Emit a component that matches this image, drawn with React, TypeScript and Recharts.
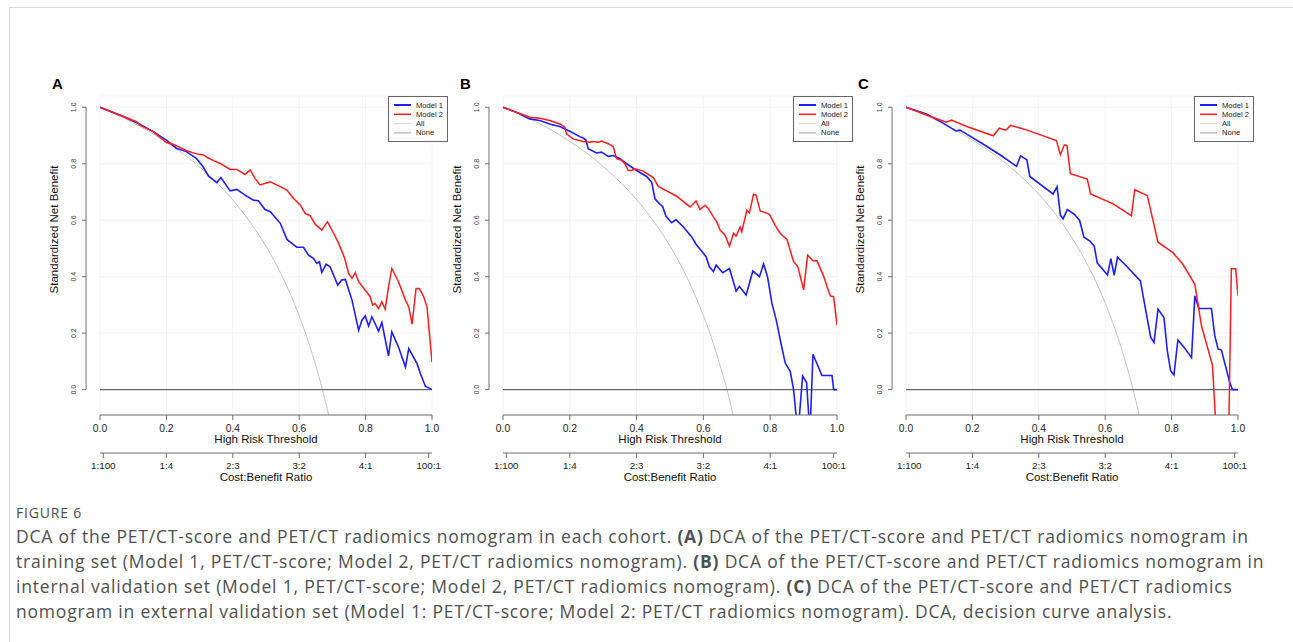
import React from "react";
import { CartesianGrid, Label, Legend, Line, LineChart, ReferenceLine, XAxis, YAxis } from "recharts";

type Pt = [number, number];

const thresholdTicks = [0, 0.2, 0.4, 0.6, 0.8, 1.0];
const costBenefitTicks = [0.0099, 0.2, 0.4, 0.6, 0.8, 0.99];
const costBenefitLabels = ["1:100", "1:4", "2:3", "3:2", "4:1", "100:1"];
const netBenefitTicks = [0, 0.2, 0.4, 0.6, 0.8, 1.0];
const legendNames = ["Model 1", "Model 2", "All", "None"];
const noneLine: Pt[] = [[0, 0], [1, 0]];

// panel A, training set
const aModel1: Pt[] = [
  [0, 1.0], [0.07, 0.967], [0.12, 0.94], [0.16, 0.914], [0.2, 0.884], [0.23, 0.855], [0.26, 0.843],
  [0.29, 0.819], [0.31, 0.79], [0.327, 0.756], [0.352, 0.733], [0.364, 0.751], [0.392, 0.704],
  [0.412, 0.709], [0.437, 0.689], [0.462, 0.671], [0.477, 0.669], [0.497, 0.638], [0.513, 0.63],
  [0.543, 0.589], [0.563, 0.532], [0.593, 0.504], [0.613, 0.504], [0.628, 0.476], [0.643, 0.465],
  [0.653, 0.447], [0.661, 0.453], [0.668, 0.415], [0.681, 0.444], [0.693, 0.435], [0.716, 0.37],
  [0.728, 0.388], [0.739, 0.39], [0.759, 0.317], [0.779, 0.21], [0.789, 0.246], [0.799, 0.261],
  [0.809, 0.225], [0.819, 0.258], [0.839, 0.207], [0.849, 0.238], [0.869, 0.119], [0.879, 0.204],
  [0.899, 0.151], [0.92, 0.08], [0.93, 0.145], [0.955, 0.092], [0.965, 0.057], [0.98, 0.012], [1.0, 0]
];
const aModel2: Pt[] = [
  [0, 1.0], [0.11, 0.949], [0.12, 0.937], [0.16, 0.914], [0.2, 0.875], [0.22, 0.869], [0.241, 0.858],
  [0.261, 0.846], [0.291, 0.835], [0.312, 0.831], [0.322, 0.823], [0.342, 0.811], [0.362, 0.801],
  [0.392, 0.78], [0.412, 0.78], [0.437, 0.762], [0.452, 0.778], [0.467, 0.748], [0.482, 0.725],
  [0.513, 0.736], [0.543, 0.719], [0.563, 0.707], [0.583, 0.677], [0.603, 0.654], [0.618, 0.624],
  [0.633, 0.616], [0.648, 0.586], [0.668, 0.565], [0.685, 0.595], [0.704, 0.553], [0.719, 0.518],
  [0.737, 0.465], [0.749, 0.411], [0.759, 0.394], [0.769, 0.414], [0.779, 0.382], [0.814, 0.329],
  [0.821, 0.299], [0.829, 0.305], [0.839, 0.287], [0.849, 0.311], [0.859, 0.284], [0.869, 0.364],
  [0.879, 0.429], [0.899, 0.382], [0.92, 0.317], [0.93, 0.293], [0.94, 0.232], [0.952, 0.358],
  [0.962, 0.358], [0.975, 0.329], [0.985, 0.293], [1.0, 0.098]
];
const aAll: Pt[] = [
  [0, 1.0], [0.05, 0.974], [0.1, 0.945], [0.15, 0.913], [0.2, 0.877], [0.25, 0.836], [0.3, 0.789],
  [0.35, 0.735], [0.4, 0.672], [0.45, 0.597], [0.5, 0.508], [0.525, 0.456], [0.55, 0.398],
  [0.575, 0.334], [0.6, 0.261], [0.61, 0.23], [0.63, 0.161], [0.64, 0.124], [0.65, 0.085],
  [0.66, 0.044], [0.67, 0.0], [0.68, -0.047], [0.69, -0.096], [0.7, -0.149]
];

// panel B, internal validation set
const bModel1: Pt[] = [
  [0, 1.0], [0.04, 0.982], [0.08, 0.959], [0.11, 0.953], [0.14, 0.941], [0.17, 0.932], [0.2, 0.915],
  [0.23, 0.896], [0.24, 0.891], [0.248, 0.885], [0.255, 0.853], [0.28, 0.838], [0.295, 0.841],
  [0.315, 0.826], [0.33, 0.829], [0.35, 0.818], [0.37, 0.8], [0.4, 0.776], [0.43, 0.755],
  [0.445, 0.735], [0.455, 0.676], [0.468, 0.659], [0.478, 0.649], [0.488, 0.614], [0.505, 0.591],
  [0.518, 0.602], [0.54, 0.576], [0.565, 0.541], [0.578, 0.515], [0.608, 0.471], [0.618, 0.435],
  [0.63, 0.418], [0.638, 0.441], [0.658, 0.414], [0.678, 0.429], [0.698, 0.349], [0.708, 0.365],
  [0.728, 0.335], [0.748, 0.42], [0.768, 0.4], [0.78, 0.445], [0.792, 0.4], [0.805, 0.306],
  [0.818, 0.247], [0.832, 0.165], [0.845, 0.094], [0.86, 0.065], [0.87, 0.0], [0.883, -0.16],
  [0.897, 0.048], [0.909, 0.025], [0.919, -0.16], [0.928, 0.125], [0.955, 0.05], [0.985, 0.05],
  [0.99, 0.0], [1.0, 0.0]
];
const bModel2: Pt[] = [
  [0, 1.0], [0.08, 0.965], [0.11, 0.961], [0.14, 0.953], [0.17, 0.941], [0.185, 0.93], [0.19, 0.906],
  [0.21, 0.888], [0.24, 0.879], [0.26, 0.876], [0.27, 0.879], [0.285, 0.876], [0.295, 0.88],
  [0.315, 0.871], [0.33, 0.861], [0.34, 0.818], [0.355, 0.812], [0.365, 0.8], [0.375, 0.776],
  [0.385, 0.776], [0.395, 0.782], [0.42, 0.774], [0.45, 0.751], [0.465, 0.72], [0.49, 0.704],
  [0.52, 0.685], [0.56, 0.647], [0.578, 0.668], [0.59, 0.638], [0.605, 0.653], [0.615, 0.641],
  [0.63, 0.612], [0.64, 0.594], [0.65, 0.565], [0.665, 0.547], [0.678, 0.508], [0.69, 0.553],
  [0.698, 0.544], [0.71, 0.576], [0.715, 0.559], [0.73, 0.635], [0.738, 0.626], [0.75, 0.692],
  [0.758, 0.688], [0.77, 0.633], [0.798, 0.621], [0.815, 0.582], [0.83, 0.553], [0.85, 0.532],
  [0.87, 0.453], [0.883, 0.435], [0.9, 0.353], [0.912, 0.476], [0.928, 0.456], [0.94, 0.456],
  [0.96, 0.402], [0.97, 0.365], [0.98, 0.332], [0.99, 0.329], [1.0, 0.229]
];
const bAll: Pt[] = [
  [0, 1.0], [0.05, 0.976], [0.1, 0.948], [0.15, 0.916], [0.2, 0.879], [0.25, 0.838], [0.3, 0.79],
  [0.35, 0.736], [0.4, 0.673], [0.45, 0.598], [0.5, 0.509], [0.525, 0.457], [0.55, 0.399],
  [0.575, 0.335], [0.6, 0.262], [0.61, 0.231], [0.63, 0.162], [0.64, 0.125], [0.65, 0.086],
  [0.66, 0.045], [0.671, 0.0], [0.68, -0.045], [0.69, -0.094], [0.7, -0.147]
];

// panel C, external validation set
const cModel1: Pt[] = [
  [0, 1.0], [0.062, 0.976], [0.112, 0.944], [0.15, 0.916], [0.162, 0.919], [0.173, 0.912],
  [0.233, 0.869], [0.283, 0.832], [0.333, 0.791], [0.345, 0.828], [0.364, 0.814], [0.373, 0.755],
  [0.443, 0.693], [0.455, 0.718], [0.465, 0.618], [0.473, 0.605], [0.486, 0.638], [0.508, 0.62],
  [0.523, 0.599], [0.536, 0.54], [0.554, 0.526], [0.567, 0.508], [0.576, 0.449], [0.607, 0.406],
  [0.617, 0.464], [0.627, 0.405], [0.637, 0.469], [0.664, 0.438], [0.706, 0.385], [0.737, 0.185],
  [0.747, 0.167], [0.759, 0.285], [0.777, 0.255], [0.787, 0.138], [0.797, 0.067], [0.807, 0.052],
  [0.819, 0.176], [0.84, 0.146], [0.86, 0.113], [0.87, 0.332], [0.882, 0.287], [0.92, 0.287],
  [0.93, 0.191], [0.94, 0.144], [0.95, 0.14], [0.975, 0.026], [0.983, 0.0], [1.0, 0.0]
];
const cModel2: Pt[] = [
  [0, 1.0], [0.082, 0.964], [0.122, 0.947], [0.137, 0.955], [0.183, 0.932], [0.263, 0.899],
  [0.281, 0.926], [0.301, 0.919], [0.315, 0.936], [0.363, 0.92], [0.453, 0.882], [0.465, 0.832],
  [0.477, 0.867], [0.485, 0.864], [0.495, 0.765], [0.546, 0.746], [0.556, 0.693], [0.624, 0.658],
  [0.679, 0.616], [0.689, 0.708], [0.727, 0.687], [0.759, 0.522], [0.804, 0.485], [0.834, 0.444],
  [0.87, 0.373], [0.89, 0.226], [0.923, 0.087], [0.935, -0.16], [0.972, -0.16], [0.98, 0.428],
  [0.993, 0.428], [1.0, 0.332]
];
const cAll: Pt[] = [
  [0, 1.0], [0.05, 0.976], [0.1, 0.949], [0.15, 0.918], [0.2, 0.884], [0.25, 0.846], [0.3, 0.802],
  [0.35, 0.751], [0.4, 0.692], [0.45, 0.622], [0.5, 0.538], [0.55, 0.435], [0.6, 0.307],
  [0.63, 0.213], [0.65, 0.142], [0.67, 0.062], [0.684, 0.0], [0.7, -0.078], [0.71, -0.131]
];

const BLUE = "#1e1eff";
const RED = "#ff1e1e";
const ALL_GREY = "#c4c4c4";
const NONE_GREY = "#6a6a6a";
const AXIS = "#6f6f6f";
const FONT = "'Liberation Sans', Arial, sans-serif";

const legendColors = [BLUE, RED, "#d6d6d6", "#a0a0a0"];
const legendWidths = [2, 1.5, 1, 1];

// threshold axis sits right under the plot, cost:benefit axis below it
const RISK_AXIS = "a";
const COST_AXIS = "b";

const rows = (pts: Pt[]) => pts.map(([x, y]) => ({ x, y }));

function LegendBox() {
  return (
    <svg width={60} height={47} style={{ display: "block" }}>
      <rect x={0.5} y={0.5} width={59} height={45} fill="#fff" stroke="#666" />
      {legendNames.map((name, i) => (
        <g key={name}>
          <line x1={6} x2={23} y1={9 + i * 9.3} y2={9 + i * 9.3} stroke={legendColors[i]} strokeWidth={legendWidths[i]} />
          <text x={28} y={9 + i * 9.3} dominantBaseline="central" fontSize={7.6} fill="#222" fontFamily={FONT}>
            {name}
          </text>
        </g>
      ))}
    </svg>
  );
}

function NetBenefitTick(props: any) {
  const { x, y, payload } = props;
  const tx = x - 26;
  return (
    <g>
      <line x1={x - 14} x2={x - 18} y1={y} y2={y} stroke={AXIS} />
      <text
        x={tx}
        y={y}
        transform={`rotate(-90 ${tx} ${y})`}
        textAnchor="middle"
        dominantBaseline="central"
        fontSize={7}
        fill="#333"
        fontFamily={FONT}
      >
        {Number(payload.value).toFixed(1)}
      </text>
    </g>
  );
}

function AxisTitle(props: any) {
  const { viewBox, value } = props;
  return (
    <text
      x={viewBox.x + viewBox.width / 2}
      y={viewBox.y + 24}
      textAnchor="middle"
      dominantBaseline="central"
      fontSize={11.5}
      fill="#111"
      fontFamily={FONT}
    >
      {value}
    </text>
  );
}

function YTitle(props: any) {
  const { viewBox } = props;
  const cx = viewBox.x + viewBox.width - 46;
  const cy = viewBox.y + viewBox.height / 2 - 26;
  return (
    <text
      x={cx}
      y={cy}
      transform={`rotate(-90 ${cx} ${cy})`}
      textAnchor="middle"
      dominantBaseline="central"
      fontSize={11.5}
      fill="#111"
      fontFamily={FONT}
    >
      Standardized Net Benefit
    </text>
  );
}

function DcaPanel({
  left,
  width,
  model1,
  model2,
  all
}: {
  left: number;
  width: number;
  model1: Pt[];
  model2: Pt[];
  all: Pt[];
}) {
  return (
    <div style={{ position: "absolute", left, top: 60 }}>
      <LineChart width={width} height={430} margin={{ top: 36, right: 28, left: 0, bottom: 3 }}>
        <CartesianGrid xAxisId={RISK_AXIS} stroke="#f3f3f3" />
        <XAxis
          xAxisId={RISK_AXIS}
          type="number"
          dataKey="x"
          domain={[0, 1]}
          ticks={thresholdTicks}
          allowDataOverflow
          height={38}
          stroke={AXIS}
          tickSize={5}
          tickMargin={5}
          interval={0}
          tickFormatter={(v: number) => v.toFixed(1)}
          tick={{ fontSize: 10.3, fill: "#222", fontFamily: FONT }}
        >
          <Label value="High Risk Threshold" content={<AxisTitle value="High Risk Threshold" />} />
        </XAxis>
        <XAxis
          xAxisId={COST_AXIS}
          type="number"
          dataKey="x"
          domain={[0, 1]}
          ticks={costBenefitTicks}
          allowDataOverflow
          height={34}
          stroke={AXIS}
          tickSize={5}
          tickMargin={4}
          interval={0}
          tickFormatter={(v: number) => costBenefitLabels[costBenefitTicks.indexOf(v)]}
          tick={{ fontSize: 9.8, fill: "#222", fontFamily: FONT }}
        >
          <Label value="Cost:Benefit Ratio" content={<AxisTitle value="Cost:Benefit Ratio" />} />
        </XAxis>
        <YAxis
          type="number"
          domain={[-0.09, 1.04]}
          ticks={netBenefitTicks}
          allowDataOverflow
          width={60}
          axisLine={false}
          tickLine={false}
          tickSize={0}
          tickMargin={0}
          interval={0}
          tick={(p: any) => <NetBenefitTick {...p} />}
        >
          <Label content={<YTitle />} />
        </YAxis>
        <ReferenceLine
          xAxisId={RISK_AXIS}
          segment={[{ x: -0.042, y: 0 }, { x: -0.042, y: 1 }]}
          stroke={AXIS}
          ifOverflow="visible"
        />
        <Legend
          layout="vertical"
          align="center"
          verticalAlign="middle"
          wrapperStyle={{ left: width - 28 + 16 - 60, top: 36, width: 60, height: 47 }}
          content={() => <LegendBox />}
        />
        <Line xAxisId={RISK_AXIS} data={rows(all)} dataKey="y" name="All" type="monotone" stroke={ALL_GREY} strokeWidth={1} dot={false} isAnimationActive={false} />
        <Line xAxisId={RISK_AXIS} data={rows(noneLine)} dataKey="y" name="None" type="linear" stroke={NONE_GREY} strokeWidth={1.3} dot={false} isAnimationActive={false} />
        <Line xAxisId={RISK_AXIS} data={rows(model1)} dataKey="y" name="Model 1" type="linear" stroke={BLUE} strokeWidth={1.6} dot={false} isAnimationActive={false} />
        <Line xAxisId={RISK_AXIS} data={rows(model2)} dataKey="y" name="Model 2" type="linear" stroke={RED} strokeWidth={1.5} dot={false} isAnimationActive={false} />
      </LineChart>
    </div>
  );
}

const letterStyle: React.CSSProperties = {
  position: "absolute",
  top: 76,
  fontFamily: FONT,
  fontWeight: 700,
  fontSize: 15,
  lineHeight: "15px",
  color: "#000"
};

const captionLine: React.CSSProperties = {
  whiteSpace: "nowrap",
  height: 25,
  lineHeight: "25px"
};

export default function App() {
  return (
    <div style={{ position: "absolute", left: 0, top: 0, width: 1293, height: 642, background: "#fff", overflow: "hidden" }}>
      <div style={{ position: "absolute", left: 9, top: 7, right: 0, bottom: 0, borderTop: "1px solid #d9d9d9", borderLeft: "1px solid #d9d9d9" }} />
      <DcaPanel left={40} width={420} model1={aModel1} model2={aModel2} all={aAll} />
      <DcaPanel left={443} width={422} model1={bModel1} model2={bModel2} all={bAll} />
      <DcaPanel left={846} width={420} model1={cModel1} model2={cModel2} all={cAll} />
      <div style={{ ...letterStyle, left: 52 }}>A</div>
      <div style={{ ...letterStyle, left: 460 }}>B</div>
      <div style={{ ...letterStyle, left: 858 }}>C</div>
      <div style={{ position: "absolute", left: 16, top: 504, fontFamily: "'Open Sans', sans-serif", fontSize: 14, letterSpacing: 0.8, color: "#4d4d4d", lineHeight: "18px" }}>
        FIGURE 6
      </div>
      <div style={{ position: "absolute", left: 16, top: 524, fontFamily: "'Open Sans', sans-serif", fontSize: 17.5, letterSpacing: 0.8, color: "#505050" }}>
        <div style={captionLine}>
          DCA of the PET/CT-score and PET/CT radiomics nomogram in each cohort. <b>(A)</b> DCA of the PET/CT-score and PET/CT radiomics nomogram in
        </div>
        <div style={captionLine}>
          training set (Model 1, PET/CT-score; Model 2, PET/CT radiomics nomogram). <b>(B)</b> DCA of the PET/CT-score and PET/CT radiomics nomogram in
        </div>
        <div style={captionLine}>
          internal validation set (Model 1, PET/CT-score; Model 2, PET/CT radiomics nomogram). <b>(C)</b> DCA of the PET/CT-score and PET/CT radiomics
        </div>
        <div style={captionLine}>
          nomogram in external validation set (Model 1: PET/CT-score; Model 2: PET/CT radiomics nomogram). DCA, decision curve analysis.
        </div>
      </div>
    </div>
  );
}
